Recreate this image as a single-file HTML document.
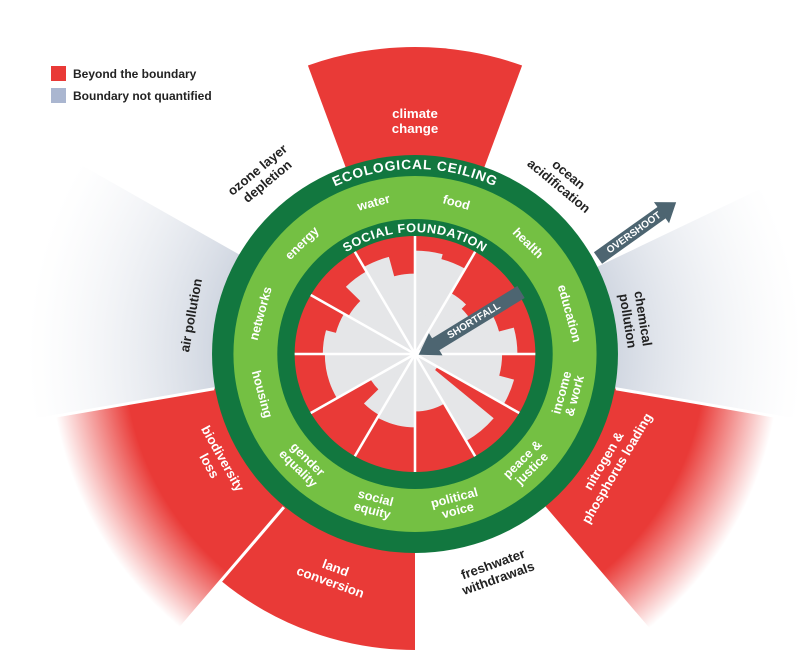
<!DOCTYPE html>
<html><head><meta charset="utf-8"><style>
html,body{margin:0;padding:0;background:#fff;}
svg{display:block;}
text{font-family:"Liberation Sans",Arial,sans-serif;font-weight:bold;}
</style></head><body>
<svg id="s" width="798" height="658" viewBox="0 0 798 658" xmlns="http://www.w3.org/2000/svg">
<defs>
<radialGradient id="gRed" gradientUnits="userSpaceOnUse" cx="0" cy="0" r="365">
<stop offset="0" stop-color="#e93a37"/><stop offset="0.78" stop-color="#e93a37"/><stop offset="0.98" stop-color="#e93a37" stop-opacity="0"/></radialGradient>
<radialGradient id="gGrey" gradientUnits="userSpaceOnUse" cx="0" cy="0" r="400">
<stop offset="0" stop-color="#c3cbda"/><stop offset="0.5" stop-color="#d2d8e2"/><stop offset="0.95" stop-color="#eef0f4" stop-opacity="0"/></radialGradient>
<path id="ecoArc" d="M -185 0 A 185 185 0 0 1 185 0"/>
<path id="socArc" d="M -122 0 A 122 122 0 0 1 122 0"/>
</defs>
<g id="dia" transform="translate(415,354) scale(1.02,1)">
<g id="outer"></g>
<circle r="199" fill="#12773f"/>
<circle r="178" fill="#74c043"/>
<circle r="135" fill="#12773f"/>
<circle r="118" fill="#e93a37"/>
<g id="core"></g>
<text font-size="13.5" fill="#fff" letter-spacing="0.8"><textPath href="#ecoArc" startOffset="50%" text-anchor="middle">ECOLOGICAL CEILING</textPath></text>
<text font-size="12.5" fill="#fff" letter-spacing="0.6"><textPath href="#socArc" startOffset="50%" text-anchor="middle">SOCIAL FOUNDATION</textPath></text>
<g font-size="12.5" fill="#fff" text-anchor="middle" dominant-baseline="middle">
<text transform="rotate(-15) translate(0,-156)">water</text>
<text transform="rotate(15) translate(0,-156)">food</text>
<text transform="rotate(45) translate(0,-156)">health</text>
<text transform="rotate(75) translate(0,-156)">education</text>
<text transform="rotate(105) translate(0,-156) rotate(180)"><tspan x="0" dy="-6">income</tspan><tspan x="0" dy="13">&amp; work</tspan></text>
<text transform="rotate(135) translate(0,-156) rotate(180)"><tspan x="0" dy="-6">peace &amp;</tspan><tspan x="0" dy="13">justice</tspan></text>
<text transform="rotate(165) translate(0,-156) rotate(180)"><tspan x="0" dy="-6">political</tspan><tspan x="0" dy="13">voice</tspan></text>
<text transform="rotate(195) translate(0,-156) rotate(180)"><tspan x="0" dy="-6">social</tspan><tspan x="0" dy="13">equity</tspan></text>
<text transform="rotate(225) translate(0,-156) rotate(180)"><tspan x="0" dy="-6">gender</tspan><tspan x="0" dy="13">equality</tspan></text>
<text transform="rotate(255) translate(0,-156) rotate(180)">housing</text>
<text transform="rotate(285) translate(0,-156)">networks</text>
<text transform="rotate(315) translate(0,-156)">energy</text>
</g>
<g font-size="13" text-anchor="middle" dominant-baseline="middle">
<text fill="#fff" transform="translate(0,-232)"><tspan x="0" dy="-7">climate</tspan><tspan x="0" dy="15">change</tspan></text>
<text fill="#222" transform="rotate(40) translate(0,-226)"><tspan x="0" dy="-7">ocean</tspan><tspan x="0" dy="15">acidification</tspan></text>
<text fill="#222" transform="rotate(81) translate(0,-218)"><tspan x="0" dy="-7">chemical</tspan><tspan x="0" dy="15">pollution</tspan></text>
<text fill="#fff" transform="rotate(120) translate(0,-222) rotate(180)"><tspan x="0" dy="-7">nitrogen &amp;</tspan><tspan x="0" dy="15">phosphorus loading</tspan></text>
<text fill="#222" transform="rotate(160) translate(0,-232) rotate(180)"><tspan x="0" dy="-7">freshwater</tspan><tspan x="0" dy="15">withdrawals</tspan></text>
<text fill="#fff" transform="rotate(200) translate(0,-236) rotate(180)"><tspan x="0" dy="-7">land</tspan><tspan x="0" dy="15">conversion</tspan></text>
<text fill="#fff" transform="rotate(241) translate(0,-224) rotate(180)"><tspan x="0" dy="-7">biodiversity</tspan><tspan x="0" dy="15">loss</tspan></text>
<text fill="#222" transform="rotate(280) translate(0,-222)">air pollution</text>
<text fill="#222" transform="rotate(320) translate(0,-232)"><tspan x="0" dy="-7">ozone layer</tspan><tspan x="0" dy="15">depletion</tspan></text>
</g>
</g>
<g transform="translate(521,292) rotate(148.5)" fill="#4d6571">
<rect x="0" y="-7" width="104" height="14"/><polygon points="100,-13 120,0 100,13"/>
</g>
<text font-size="10" fill="#fff" text-anchor="middle" dominant-baseline="middle" transform="translate(474,321) rotate(-31.5)">SHORTFALL</text>
<g transform="translate(598,258) rotate(-35.5)" fill="#4d6571">
<rect x="0" y="-7" width="80" height="14"/><polygon points="78,-13 96,0 78,13"/>
</g>
<text font-size="10" fill="#fff" text-anchor="middle" dominant-baseline="middle" transform="translate(634,233) rotate(-35.5)">OVERSHOOT</text>
<rect x="51" y="66" width="15" height="15" fill="#e93a37"/>
<text x="73" y="78" font-size="12" fill="#222">Beyond the boundary</text>
<rect x="51" y="88" width="15" height="15" fill="#aab6d0"/>
<text x="73" y="100" font-size="12" fill="#222">Boundary not quantified</text>
</svg>
<script>
(function(){
var NS="http://www.w3.org/2000/svg";
function P(r,a){a=a*Math.PI/180;return [r*Math.sin(a),-r*Math.cos(a)];}
function sec(r0,r1,a0,a1){var p1=P(r1,a0),p2=P(r1,a1),p3=P(r0,a1),p4=P(r0,a0);var lg=(a1-a0)>180?1:0;
var d="M"+p1+" A"+r1+" "+r1+" 0 "+lg+" 1 "+p2+" L"+p3;
if(r0>0)d+=" A"+r0+" "+r0+" 0 "+lg+" 0 "+p4;return d+" Z";}
function add(g,d,fill,st){var e=document.createElementNS(NS,"path");e.setAttribute("d",d);e.setAttribute("fill",fill);
if(st){e.setAttribute("stroke",fill);e.setAttribute("stroke-width","0.8");}g.appendChild(e);return e;}
var o=document.getElementById("outer");
add(o,sec(0,307,-20,20),"#e93a37");
add(o,sec(0,400,64,100),"url(#gGrey)");
add(o,sec(0,365,100,140),"url(#gRed)");
add(o,sec(0,296,180,220),"#e93a37");
add(o,sec(0,365,220,260),"url(#gRed)");
add(o,sec(0,420,260,300),"url(#gGrey)");
[100,220,260].forEach(function(a){var l=document.createElementNS(NS,"line");var p=P(200,a),q=P(400,a);
l.setAttribute("x1",p[0]);l.setAttribute("y1",p[1]);l.setAttribute("x2",q[0]);l.setAttribute("y2",q[1]);
l.setAttribute("stroke","#fff");l.setAttribute("stroke-width","3");o.appendChild(l);});
var c=document.getElementById("core");
var gs=[[0,15,103],[15,30,98],[30,45,70],[45,60,64],[60,75,85],[75,90,100],[90,105,85],[105,120,100],[120,130,25],[130,150,100],
[150,180,57],[180,210,73],[210,225,70],[225,240,50],[240,270,88],[270,285,90],[285,300,80],[300,315,75],[315,330,95],[330,345,100],[345,360,80]];
gs.forEach(function(s){add(c,sec(0,s[2],s[0],s[1]),"#e5e6e8",true);});
for(var a=0;a<360;a+=30){var l=document.createElementNS(NS,"line");var q=P(118,a);
l.setAttribute("x1",0);l.setAttribute("y1",0);l.setAttribute("x2",q[0]);l.setAttribute("y2",q[1]);
l.setAttribute("stroke","#fff");l.setAttribute("stroke-width","2.5");c.appendChild(l);}
})();
</script>
</body></html>
